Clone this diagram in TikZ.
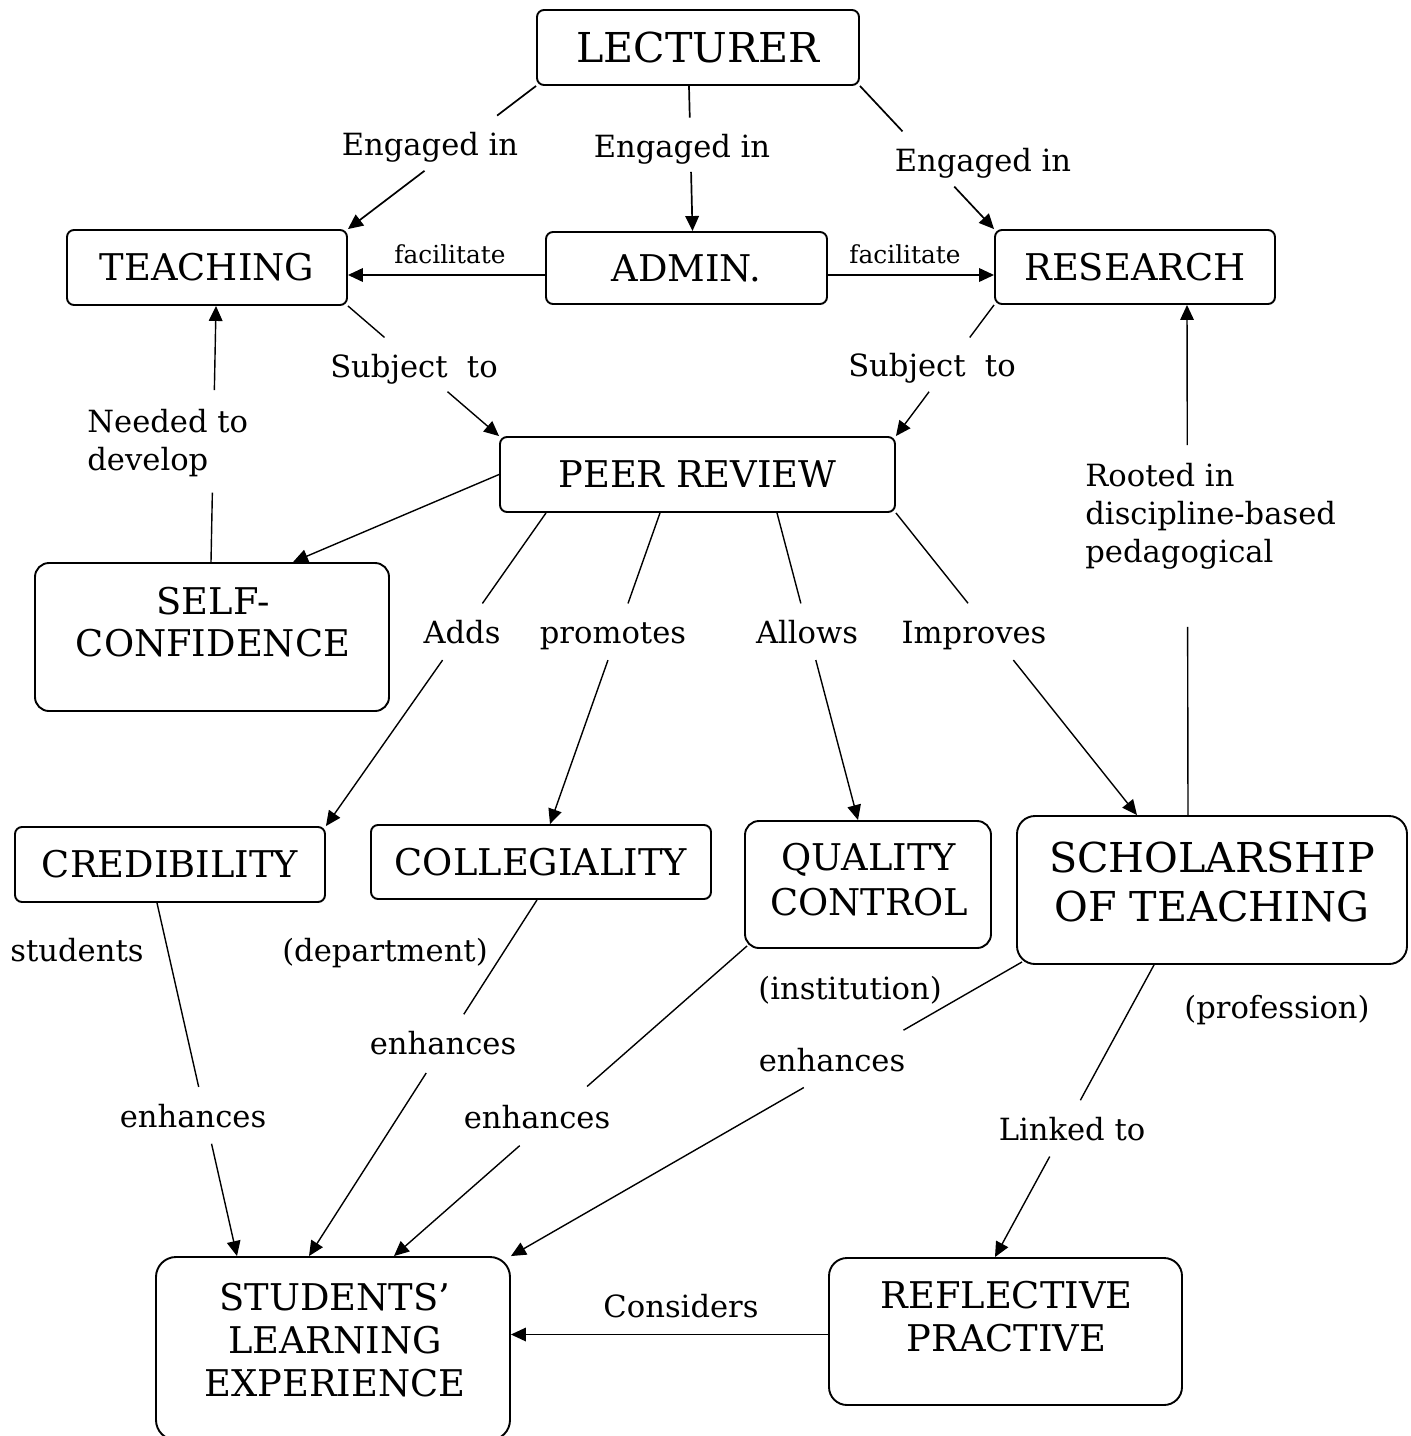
\documentclass[tikz,border=0pt]{standalone}
\usepackage{fontspec}
\setmainfont{DejaVu Serif}
\usetikzlibrary{arrows.meta,calc}

\newcommand\splitarrow[5][conn]{%
  \draw[#1] (#2) -- ($(#2)!#4!(#3)$);
  \draw[#1,arr] ($(#2)!#5!(#3)$) -- (#3);}

\begin{document}
\begin{tikzpicture}[x=0.5pt,y=-0.5pt,
  box/.style={draw, line width=0.95pt, rounded corners=3.5pt, inner sep=0pt, align=center},
  bigbox/.style={box, rounded corners=9pt},
  boxfont/.style={font=\fontsize{18.4}{21.5}\selectfont},
  bigfont/.style={font=\fontsize{20.6}{24.5}\selectfont},
  boxtext/.style={inner sep=0pt, align=center, boxfont},
  lbl/.style={inner sep=0pt, anchor=base, font=\fontsize{15.3}{19}\selectfont},
  smalllbl/.style={lbl, font=\fontsize{12.4}{15}\selectfont},
  conn/.style={line width=0.7pt},
  thick conn/.style={line width=0.85pt},
  arr/.style={-{Triangle[length=7.5pt,width=6.8pt]}}
]
\useasboundingbox (0,0) rectangle (1411,1436);

% ---- concept boxes ----
\node[box, bigfont, minimum width=161pt, minimum height=37.5pt] (lect) at (698,47.5) {LECTURER};
\node[box, boxfont, minimum width=140pt, minimum height=37.5pt] (teach) at (207,267.5) {TEACHING};
\node[box, boxfont, minimum width=140.5pt, minimum height=36pt] (admin) at (686.5,268) {ADMIN.};
\node[box, boxfont, minimum width=140pt, minimum height=37pt] (res) at (1135,267) {RESEARCH};
\node[box, boxfont, minimum width=197.5pt, minimum height=37.5pt] (peer) at (697.5,474.5) {PEER REVIEW};
\node[bigbox, rounded corners=7pt, minimum width=177pt, minimum height=74pt] (self) at (212,637) {};
\node[boxtext, font=\fontsize{18.4}{21}\selectfont] (self-t) at (213,622) {SELF-\\CONFIDENCE};
\node[box, boxfont, minimum width=155pt, minimum height=37.5pt] (cred) at (170,864.5) {CREDIBILITY};
\node[box, boxfont, minimum width=170pt, minimum height=37pt] (coll) at (541,862) {COLLEGIALITY};
\node[box, rounded corners=7pt, minimum width=123pt, minimum height=63.5pt] (qual) at (868,884.5) {};
\node[boxtext, font=\fontsize{18.4}{22.5}\selectfont] (qual-t) at (869,879.5) {QUALITY\\CONTROL};
\node[bigbox, minimum width=195pt, minimum height=74pt] (schol) at (1212,890) {};
\node[boxtext, bigfont] (schol-t) at (1212,881.5) {SCHOLARSHIP\\OF TEACHING};
\node[bigbox, rounded corners=10pt, minimum width=177pt, minimum height=91.5pt] (sle) at (333,1348.5) {};
\node[boxtext] (sle-t) at (335,1340) {STUDENTS’\\LEARNING\\EXPERIENCE};
\node[bigbox, minimum width=176.5pt, minimum height=73.5pt] (refl) at (1005.5,1331.5) {};
\node[boxtext] (refl-t) at (1006.5,1316.5) {REFLECTIVE\\PRACTIVE};

% ---- link labels ----
\node[lbl] (eng1) at (430,155) {Engaged in};
\node[lbl] (eng2) at (682,157) {Engaged in};
\node[lbl] (eng3) at (983,171) {Engaged in};
\node[smalllbl] (fac1) at (450,263) {facilitate};
\node[smalllbl] (fac2) at (905,263) {facilitate};
\node[lbl] (sub1) at (414,377) {Subject\ \ to};
\node[lbl] (sub2) at (932,376) {Subject\ \ to};
\node[lbl, anchor=west, align=left] (need) at (87,443) {Needed to\\develop};
\node[lbl, anchor=west, align=left] (root) at (1085,516) {Rooted in\\discipline-based\\pedagogical};
\node[lbl] (adds) at (462,643) {Adds};
\node[lbl] (prom) at (613,643) {promotes};
\node[lbl] (allows) at (807,643) {Allows};
\node[lbl] (impr) at (974,643) {Improves};
\node[lbl] (stud) at (77,961) {students};
\node[lbl] (dept) at (385,961) {(department)};
\node[lbl] (enh2) at (443,1054) {enhances};
\node[lbl] (enh1) at (193,1127) {enhances};
\node[lbl] (enh3) at (537,1128) {enhances};
\node[lbl] (inst) at (850,999) {(institution)};
\node[lbl] (enh4) at (832,1071) {enhances};
\node[lbl] (prof) at (1277,1018) {(profession)};
\node[lbl] (link) at (1072,1140) {Linked to};
\node[lbl] (cons) at (681,1317) {Considers};

% ---- connector end points ----
\coordinate (lect-a) at ([xshift=-4.5pt]lect.south);
\coordinate (admin-t) at ([xshift=3pt]admin.north);
\coordinate (admin-l) at ([yshift=-3.5pt]admin.west);
\coordinate (admin-r) at ([yshift=-3.5pt]admin.east);
\coordinate (self-t1) at ([xshift=-0.5pt]self.north);
\coordinate (teach-b) at ([xshift=4.5pt]teach.south);
\coordinate (self-t2) at ([xshift=40.5pt]self.north);
\coordinate (peer-b1) at ([xshift=-75.75pt]peer.south);
\coordinate (peer-b2) at ([xshift=-18.75pt]peer.south);
\coordinate (peer-b3) at ([xshift=39.75pt]peer.south);
\coordinate (coll-t) at ([xshift=4.5pt]coll.north);
\coordinate (qual-tp) at ([xshift=-5pt]qual.north);
\coordinate (schol-t1) at ([xshift=-37.5pt]schol.north);
\coordinate (schol-t2) at ([xshift=-12pt]schol.north);
\coordinate (res-b) at ([xshift=26pt]res.south);
\coordinate (cred-b) at ([xshift=-6.5pt]cred.south);
\coordinate (sle-t1) at ([xshift=-48pt]sle.north);
\coordinate (coll-b) at ([xshift=-2pt]coll.south);
\coordinate (sle-t2) at ([xshift=-12pt]sle.north);
\coordinate (qual-c) at ([shift={(1.5pt,1.5pt)}]qual.south west);
\coordinate (sle-t3) at ([xshift=30.5pt]sle.north);
\coordinate (schol-c) at ([shift={(3pt,1.5pt)}]schol.south west);
\coordinate (schol-b) at ([xshift=-29pt]schol.south);
\coordinate (refl-t) at ([xshift=-5.25pt]refl.north);
\coordinate (refl-l) at ([yshift=-1.5pt]refl.west);

% ---- connectors ----
\splitarrow[thick conn]{lect.south west}{teach.north east}{0.207}{0.593}
\splitarrow[thick conn]{lect-a}{admin-t}{0.218}{0.592}
\splitarrow[thick conn]{lect.south east}{res.north west}{0.317}{0.703}
\draw[thick conn, arr] (admin-l) -- (admin-l -| teach.east);
\draw[thick conn, arr] (admin-r) -- (admin-r -| res.west);
\splitarrow{teach.south east}{peer.north west}{0.242}{0.659}
\splitarrow{res.south west}{peer.north east}{0.248}{0.662}
\splitarrow{self-t1}{teach-b}{0.271}{0.671}
\draw[conn, arr] (peer.west) -- (self-t2);
\splitarrow{peer-b1}{cred.north east}{0.289}{0.470}
\splitarrow{peer-b2}{coll-t}{0.291}{0.473}
\splitarrow{peer-b3}{qual-tp}{0.2945}{0.479}
\splitarrow{peer.south east}{schol-t1}{0.299}{0.487}
\splitarrow{schol-t2}{res-b}{0.369}{0.725}
\splitarrow{cred-b}{sle-t1}{0.521}{0.682}
\splitarrow{coll-b}{sle-t2}{0.321}{0.486}
\splitarrow{qual-c}{sle-t3}{0.453}{0.644}
\splitarrow{schol-c}{sle.north east}{0.232}{0.427}
\splitarrow{schol-b}{refl-t}{0.463}{0.656}
\draw[conn, arr] (refl-l) -- (refl-l -| sle.east);
\end{tikzpicture}
\end{document}
